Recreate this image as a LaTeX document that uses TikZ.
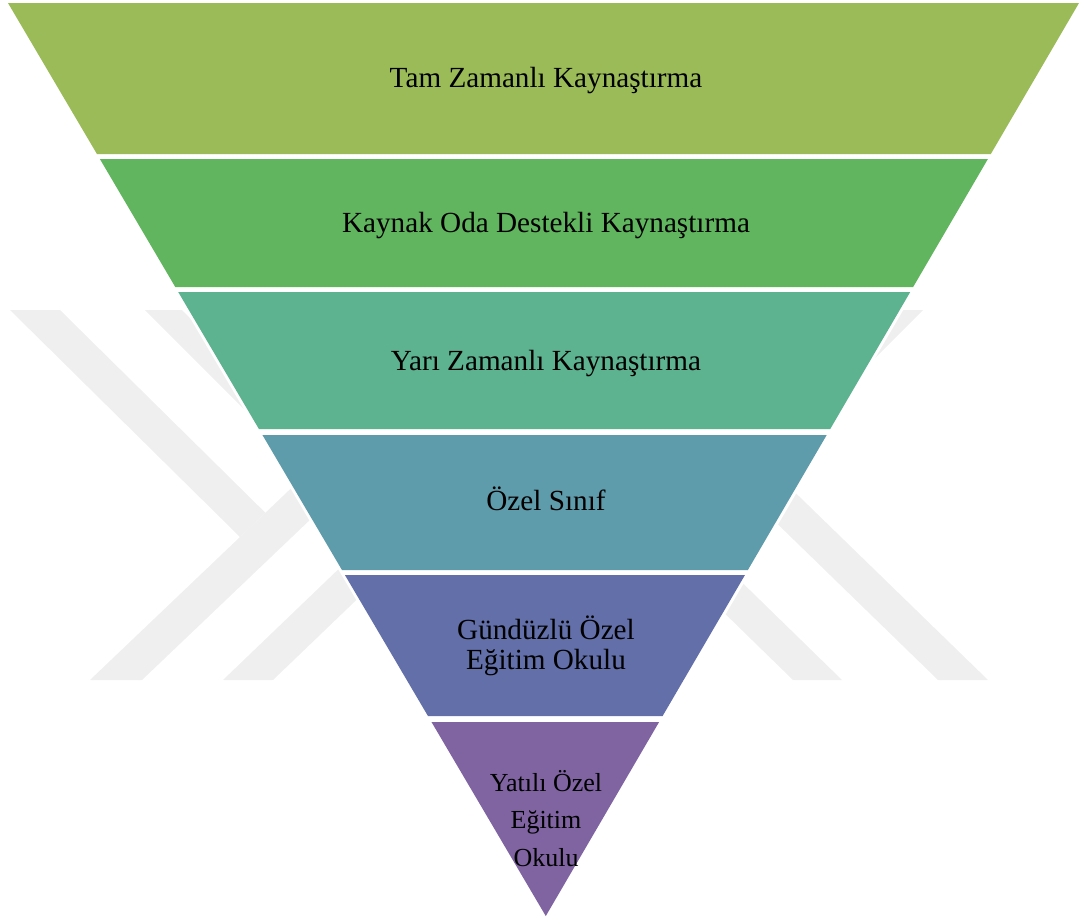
\documentclass[tikz,border=0pt]{standalone}
\usepackage{fontspec}
\setmainfont{Liberation Serif}
\definecolor{wm}{RGB}{239,239,239}
\definecolor{bandA}{HTML}{9BBB59}
\definecolor{bandB}{HTML}{60B55E}
\definecolor{bandC}{HTML}{5DB28F}
\definecolor{bandD}{HTML}{5F9CAB}
\definecolor{bandE}{HTML}{626FA8}
\definecolor{bandF}{HTML}{8064A2}
\newcommand\funnelband[3]{%
  \fill[#3] ({8+0.589*(#1-3)},#1) -- ({1079-0.584*(#1-3)},#1) --
    ({1079-0.584*(#2-3)},#2) -- ({8+0.589*(#2-3)},#2) -- cycle;}
\begin{document}
\begin{tikzpicture}[x=1bp,y=-1bp,
  wmark/.style={fill=wm},
  lbl/.style={font=\fontsize{29.2bp}{30bp}\selectfont, align=center, anchor=base, inner sep=0pt, text=black}]
\useasboundingbox (0,0) rectangle (1079,917);
% watermark stripes
\fill[wmark] (10,310) -- (60,310) -- (265.4,512.8) -- (240,537) -- cycle;
\fill[wmark] (90,680) -- (142,680) -- (435.7,400) -- (383.7,400) -- cycle;
\fill[wmark] (145,310) -- (182,310) -- (352,480) -- (315,480) -- cycle;
\fill[wmark] (223,680) -- (273,680) -- (398,560) -- (348,560) -- cycle;
\fill[wmark] (938,680) -- (988,680) -- (772,470) -- (722,470) -- cycle;
\fill[wmark] (793,680) -- (842,680) -- (719,560) -- (670,560) -- cycle;
\fill[wmark] (875,310) -- (923,310) -- (783,450) -- (735,450) -- cycle;
% white base of the funnel
\draw[white, fill=white, line width=6bp] (8,3) -- (1079,3) -- (546,916) -- cycle;
% bands
\funnelband{3}{154}{bandA}
\funnelband{159}{287}{bandB}
\funnelband{292}{429}{bandC}
\funnelband{435}{570}{bandD}
\funnelband{575}{716}{bandE}
\funnelband{722}{916}{bandF}
% labels
\node[lbl] (t1) at (546,87.5) {Tam Zamanlı Kaynaştırma};
\node[lbl] (t2) at (546,232) {Kaynak Oda Destekli Kaynaştırma};
\node[lbl] (t3) at (546,370) {Yarı Zamanlı Kaynaştırma};
\node[lbl] (t4) at (546,510) {Özel Sınıf};
\node[lbl] (t5) at (546,669) {Gündüzlü Özel\\Eğitim Okulu};
\node[lbl, font=\fontsize{26bp}{37.5bp}\selectfont] (t6) at (546,866) {Yatılı Özel\\Eğitim\\Okulu};
\end{tikzpicture}
\end{document}
